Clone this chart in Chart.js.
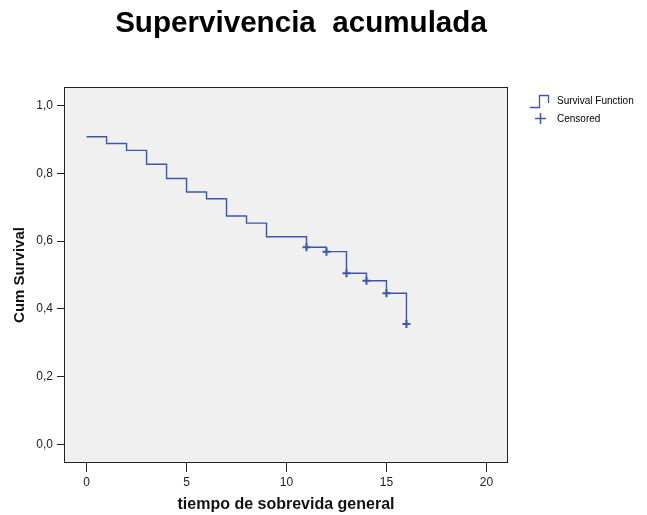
<!DOCTYPE html>
<html>
<head>
<meta charset="utf-8">
<script src="https://cdn.jsdelivr.net/npm/chart.js@4"></script>
<style>
  body { margin: 0; background: #fff; }
</style>
</head>
<body>
<canvas id="chart" width="647" height="515"></canvas>
<script>
// datos de la curva (Kaplan-Meier)
var times = [0, 1, 2, 3, 4, 5, 6, 7, 8, 9, 11, 12, 13, 14, 15, 16];
var survival = [0.908, 0.888, 0.868, 0.827, 0.785, 0.745, 0.725, 0.674, 0.653, 0.613, 0.582, 0.569, 0.505, 0.483, 0.446, 0.355];
var censoredTimes = [11, 12, 13, 14, 15, 16];
var censoredVals = [0.582, 0.569, 0.505, 0.483, 0.446, 0.355];
var xTicks = [0, 5, 10, 15, 20];
var yTicks = [0, 0.2, 0.4, 0.6, 0.8, 1.0];

var lineColor = '#3d56ad';

var survPoints = times.map(function(t, i) { return {x: t, y: survival[i]}; });
var censPoints = censoredTimes.map(function(t, i) { return {x: t, y: censoredVals[i]}; });

// fondo gris, marco, título y leyenda
var decor = {
  id: 'decor',
  beforeDatasetsDraw: function(chart) {
    var a = chart.chartArea, ctx = chart.ctx;
    ctx.save();
    ctx.fillStyle = '#f0f0f0';
    ctx.fillRect(a.left, a.top, a.right - a.left, a.bottom - a.top);
    ctx.restore();
  },
  afterDraw: function(chart) {
    var a = chart.chartArea, ctx = chart.ctx;
    ctx.save();
    ctx.strokeStyle = '#222';
    ctx.lineWidth = 1;
    ctx.strokeRect(Math.round(a.left) + 0.5, Math.round(a.top) + 0.5, Math.round(a.right - a.left) - 1, Math.round(a.bottom - a.top) - 1);

    ctx.fillStyle = '#000';
    ctx.font = 'bold 29.6px "Liberation Sans", Arial, sans-serif';
    ctx.textAlign = 'center';
    ctx.textBaseline = 'alphabetic';
    ctx.fillText('Supervivencia  acumulada', 301, 32);

    // leyenda
    ctx.strokeStyle = lineColor;
    ctx.lineWidth = 1.3;
    ctx.beginPath();
    ctx.moveTo(530, 107.5);
    ctx.lineTo(539.5, 107.5);
    ctx.lineTo(539.5, 95.5);
    ctx.lineTo(548.5, 95.5);
    ctx.lineTo(548.5, 103);
    ctx.stroke();
    ctx.lineWidth = 1.5;
    ctx.beginPath();
    ctx.moveTo(535, 118.5);
    ctx.lineTo(546, 118.5);
    ctx.moveTo(540.5, 113);
    ctx.lineTo(540.5, 124);
    ctx.stroke();
    ctx.fillStyle = '#000';
    ctx.font = '10px "Liberation Sans", Arial, sans-serif';
    ctx.textAlign = 'left';
    ctx.textBaseline = 'middle';
    ctx.fillText('Survival Function', 557, 101);
    ctx.fillText('Censored', 557, 119);
    ctx.restore();
  }
};

var ctx = document.getElementById('chart');
var myChart = new Chart(ctx, {
  type: 'scatter',
  data: {
    datasets: [{
      label: 'Survival Function',
      data: survPoints,
      showLine: true,
      stepped: 'before',
      borderColor: lineColor,
      borderWidth: 1.4,
      pointRadius: 0,
      fill: false
    }, {
      label: 'Censored',
      data: censPoints,
      showLine: false,
      pointStyle: 'cross',
      pointRadius: 4,
      borderColor: lineColor,
      borderWidth: 2
    }]
  },
  options: {
    responsive: false,
    animation: false,
    layout: {
      padding: {left: 0, top: 87, right: 139, bottom: 0}
    },
    plugins: {
      legend: {display: false},
      title: {display: false},
      tooltip: {enabled: false}
    },
    scales: {
      x: {
        type: 'linear',
        min: -1.13,
        max: 21.08,
        afterBuildTicks: function(s) { s.ticks = xTicks.map(function(v) { return {value: v}; }); },
        afterFit: function(s) { s.height = 52; },
        grid: {drawOnChartArea: false, drawTicks: true, tickLength: 9, color: '#222', lineWidth: 1},
        border: {display: false},
        ticks: {
          color: '#222',
          padding: 3,
          font: {family: '"Liberation Sans", Arial, sans-serif', size: 12},
          callback: function(v) { return v; }
        },
        title: {
          display: true,
          text: 'tiempo de sobrevida general',
          color: '#111',
          font: {family: '"Liberation Sans", Arial, sans-serif', size: 16, weight: 'bold'},
          padding: {top: 0, bottom: 1}
        }
      },
      y: {
        type: 'linear',
        min: -0.055,
        max: 1.055,
        afterBuildTicks: function(s) { s.ticks = yTicks.map(function(v) { return {value: v}; }); },
        afterFit: function(s) { s.width = 64; },
        grid: {drawOnChartArea: false, drawTicks: true, tickLength: 7, color: '#222', lineWidth: 1},
        border: {display: false},
        ticks: {
          color: '#222',
          padding: 4,
          font: {family: '"Liberation Sans", Arial, sans-serif', size: 12},
          callback: function(v) { return v.toFixed(1).replace('.', ','); }
        },
        title: {
          display: true,
          text: 'Cum Survival',
          color: '#111',
          font: {family: '"Liberation Sans", Arial, sans-serif', size: 15, weight: 'bold'},
          padding: {top: 11, bottom: 0}
        }
      }
    }
  },
  plugins: [decor]
});
</script>
</body>
</html>
